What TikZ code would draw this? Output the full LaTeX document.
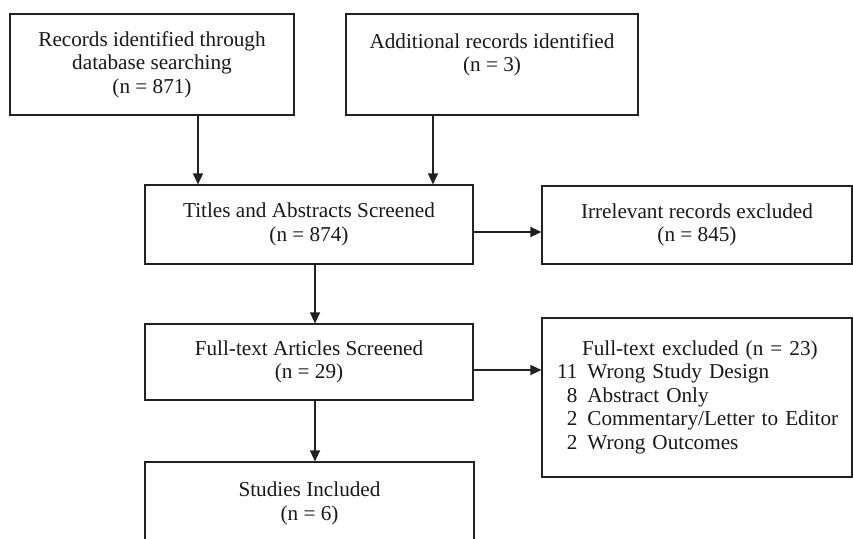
\documentclass[tikz,border=0pt]{standalone}
\usepackage{fontspec}
\setmainfont{Liberation Serif}
\usetikzlibrary{arrows.meta}
\begin{document}
\begin{tikzpicture}[x=1pt,y=-1pt,
  box/.style={draw=black!87, line width=1.2pt, rectangle, inner sep=0pt, align=center,
    font=\fontsize{21.2}{23.5}\selectfont, text=black!90},
  arr/.style={draw=black!87, line width=1.2pt, -{Triangle[length=11pt,width=10pt]}}]
\useasboundingbox (0,0) rectangle (853,538);
\clip (0,0) rectangle (853,538);
\fill[white] (0,0) rectangle (853,538);

\node[box, minimum width=284pt, minimum height=101pt] (b1) at (152,64.5)
  {Records identified through\\database searching\\(n = 871)};
\node[box, minimum width=292pt, minimum height=101pt] (b2) at (492,64.5)
  {Additional records identified\\(n = 3)\\\mbox{}};
\node[box, minimum width=328pt, minimum height=79pt] (b3) at (309,224.5)
  {Titles and Abstracts Screened\\(n = 874)};
\node[box, minimum width=310pt, minimum height=78pt] (b4) at (697,225)
  {Irrelevant records excluded\\(n = 845)};
\node[box, minimum width=328pt, minimum height=76pt] (b5) at (309,362)
  {Full-text Articles Screened\\(n = 29)};
\node[box, minimum width=310pt, minimum height=159pt, text width=280pt, inner xsep=15pt, align=left] (b6) at (697,397.5)
  {\begin{tabular}{@{}r@{\hspace{10pt}}l@{}}
   \multicolumn{2}{@{\hspace{25pt}}l}{Full-text excluded (n = 23)}\\
   11 & Wrong Study Design\\
   8 & Abstract Only\\
   2 & Commentary/Letter to Editor\\
   2 & Wrong Outcomes
   \end{tabular}};
\node[box, minimum width=329pt, minimum height=100pt] (b7) at (309.5,512) {};
\node[font=\fontsize{21.2}{23.5}\selectfont, text=black!90, align=center, anchor=north, inner sep=0pt] (b7t) at (b7.north)
  {\rule{0pt}{35pt}Studies Included\\(n = 6)};

\draw[arr] ([xshift=46pt]b1.south) coordinate (a1) -- (a1 |- b3.north);
\draw[arr] ([xshift=-59pt]b2.south) coordinate (a2) -- (a2 |- b3.north);
\draw[arr] ([yshift=-7.5pt]b3.east) coordinate (a3) -- (a3 -| b4.west);
\draw[arr] ([xshift=6pt]b3.south) coordinate (a4) -- (a4 |- b5.north);
\draw[arr] ([yshift=-8pt]b5.east) coordinate (a5) -- (a5 -| b6.west);
\draw[arr] ([xshift=6pt]b5.south) coordinate (a6) -- (a6 |- b7.north);
\end{tikzpicture}
\end{document}
